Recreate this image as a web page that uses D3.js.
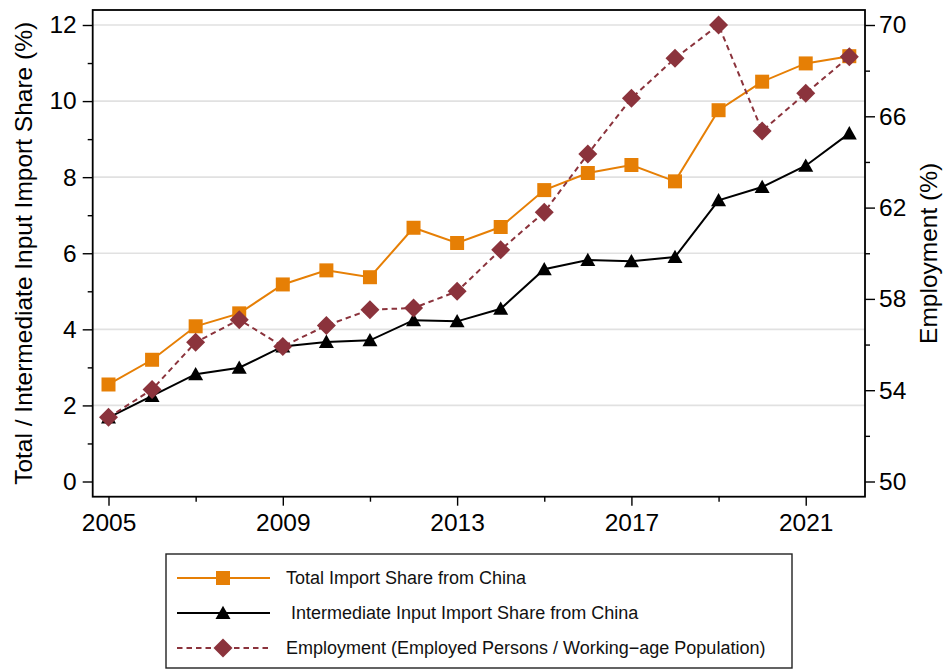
<!DOCTYPE html>
<html>
<head>
<meta charset="utf-8">
<script src="https://cdn.jsdelivr.net/npm/d3@7"></script>
<style>
  html, body { margin: 0; padding: 0; background: #fff; }
  svg { display: block; font-family: "Liberation Sans", Arial, Helvetica, sans-serif; }
  .legend-text { white-space: pre; }
</style>
</head>
<body>
<svg id="chart" width="944" height="671"></svg>
<script>
// ---- data ----
const years = [2005, 2006, 2007, 2008, 2009, 2010, 2011, 2012, 2013, 2014, 2015, 2016, 2017, 2018, 2019, 2020, 2021, 2022];
const totalShare = [2.55, 3.2, 4.08, 4.42, 5.18, 5.55, 5.37, 6.67, 6.27, 6.69, 7.66, 8.11, 8.32, 7.89, 9.76, 10.51, 10.99, 11.18];
const intermediateShare = [1.68, 2.25, 2.82, 2.99, 3.55, 3.67, 3.71, 4.24, 4.21, 4.54, 5.58, 5.82, 5.79, 5.9, 7.39, 7.74, 8.3, 9.15];
const employment = [52.81, 54.03, 56.1, 57.09, 55.92, 56.83, 57.53, 57.6, 58.33, 60.15, 61.8, 64.35, 66.79, 68.54, 70.0, 65.36, 67.01, 68.61];

const xMajorTicks = [2005, 2009, 2013, 2017, 2021];
const xMinorTicks = [2007, 2011, 2015, 2019];
const leftMajorTicks = [0, 2, 4, 6, 8, 10, 12];
const leftMinorTicks = [1, 3, 5, 7, 9, 11];
const gridTicks = [2, 4, 6, 8, 10, 12];
const rightMajorTicks = [50, 54, 58, 62, 66, 70];
const rightMinorTicks = [52, 56, 60, 64, 68];

const leftTitle = "Total / Intermediate Input Import Share (%)";
const rightTitle = "Employment (%)";
const legendLabels = ["Total Import Share from China", " Intermediate Input Import Share from China", "Employment (Employed Persons / Working\u2212age Population)"];

// ---- layout ----
const frame = { left: 92.7, right: 865, top: 10, bottom: 496.7 };
const ORANGE = "#e67f05";
const BLACK = "#000000";
const MAROON = "#8b333c";

const svg = d3.select("#chart");

const x = d3.scaleLinear().domain([2005, 2022]).range([108.5, 849.3]);
const yL = d3.scaleLinear().domain([0, 12]).range([481.5, 25]);
const yR = d3.scaleLinear().domain([50, 70]).range([481.5, 25]);

// grid lines
svg.append("g").selectAll("line").data(gridTicks).join("line")
  .attr("x1", frame.left).attr("x2", frame.right)
  .attr("y1", d => yL(d)).attr("y2", d => yL(d))
  .attr("stroke", "#e1e1e1").attr("stroke-width", 1.6);

// axes helper: strips the default domain path and styles ticks
function styleAxis(g, fontSize) {
  g.select(".domain").remove();
  g.selectAll(".tick line").attr("stroke", "#000").attr("stroke-width", 1.4);
  g.selectAll(".tick text").attr("fill", "#000").attr("font-size", fontSize)
    .attr("font-family", '"Liberation Sans", Arial, sans-serif');
}

// bottom axis
svg.append("g").attr("transform", `translate(0,${frame.bottom})`)
  .call(d3.axisBottom(x).tickValues(xMajorTicks).tickFormat(d3.format("d")).tickSize(9).tickPadding(8))
  .call(g => styleAxis(g, 24.5))
  .call(g => g.selectAll(".tick text").attr("dy", "0.71em"));
svg.append("g").attr("transform", `translate(0,${frame.bottom})`)
  .call(d3.axisBottom(x).tickValues(xMinorTicks).tickFormat("").tickSize(5))
  .call(g => styleAxis(g, 0));

// left axis
svg.append("g").attr("transform", `translate(${frame.left},0)`)
  .call(d3.axisLeft(yL).tickValues(leftMajorTicks).tickFormat(d3.format("d")).tickSize(10).tickPadding(6))
  .call(g => styleAxis(g, 24.5));
svg.append("g").attr("transform", `translate(${frame.left},0)`)
  .call(d3.axisLeft(yL).tickValues(leftMinorTicks).tickFormat("").tickSize(5))
  .call(g => styleAxis(g, 0));

// right axis
svg.append("g").attr("transform", `translate(${frame.right},0)`)
  .call(d3.axisRight(yR).tickValues(rightMajorTicks).tickFormat(d3.format("d")).tickSize(10).tickPadding(4))
  .call(g => styleAxis(g, 24.5));
svg.append("g").attr("transform", `translate(${frame.right},0)`)
  .call(d3.axisRight(yR).tickValues(rightMinorTicks).tickFormat("").tickSize(5))
  .call(g => styleAxis(g, 0));

// plot frame
svg.append("rect")
  .attr("x", frame.left).attr("y", frame.top)
  .attr("width", frame.right - frame.left).attr("height", frame.bottom - frame.top)
  .attr("fill", "none").attr("stroke", "#000").attr("stroke-width", 1.8);

// axis titles
svg.append("text")
  .attr("transform", `translate(32,${(frame.top + frame.bottom) / 2}) rotate(-90)`)
  .attr("text-anchor", "middle").attr("font-size", 24.5).attr("fill", "#000")
  .text(leftTitle);
svg.append("text")
  .attr("transform", `translate(937,${(frame.top + frame.bottom) / 2}) rotate(-90)`)
  .attr("text-anchor", "middle").attr("font-size", 24.5).attr("fill", "#000")
  .text(rightTitle);

// marker shapes
const squarePath = "M-7,-7H7V7H-7Z";
const trianglePath = "M0,-7.3L7.5,6H-7.5Z";
const diamondPath = "M0,-9.5L9.5,0L0,9.5L-9.5,0Z";

const series = [
  { values: totalShare, y: yL, color: ORANGE, dash: null, shape: squarePath },
  { values: intermediateShare, y: yL, color: BLACK, dash: null, shape: trianglePath },
  { values: employment, y: yR, color: MAROON, dash: "5.5,4", shape: diamondPath }
];

const plot = svg.append("g");
series.forEach(s => {
  const pts = years.map((yr, i) => [x(yr), s.y(s.values[i])]);
  plot.append("path")
    .attr("d", d3.line()(pts))
    .attr("fill", "none").attr("stroke", s.color).attr("stroke-width", 2)
    .attr("stroke-dasharray", s.dash);
  plot.append("g").selectAll("path").data(pts).join("path")
    .attr("transform", d => `translate(${d[0]},${d[1]})`)
    .attr("d", s.shape).attr("fill", s.color);
});

// legend
const legend = svg.append("g");
legend.append("rect")
  .attr("x", 166).attr("y", 554).attr("width", 626).attr("height", 114)
  .attr("fill", "#fff").attr("stroke", "#222").attr("stroke-width", 1.4);
const rowY = [578, 613, 648];
series.forEach((s, i) => {
  const gy = rowY[i];
  legend.append("line")
    .attr("x1", 177).attr("x2", 270).attr("y1", gy).attr("y2", gy)
    .attr("stroke", s.color).attr("stroke-width", 2)
    .attr("stroke-dasharray", s.dash);
  legend.append("path")
    .attr("transform", `translate(223,${gy})`)
    .attr("d", s.shape).attr("fill", s.color);
  legend.append("text")
    .attr("class", "legend-text")
    .attr("x", 286).attr("y", gy).attr("dy", "0.35em")
    .attr("font-size", 18).attr("fill", "#111")
    .text(legendLabels[i]);
});
</script>
</body>
</html>
